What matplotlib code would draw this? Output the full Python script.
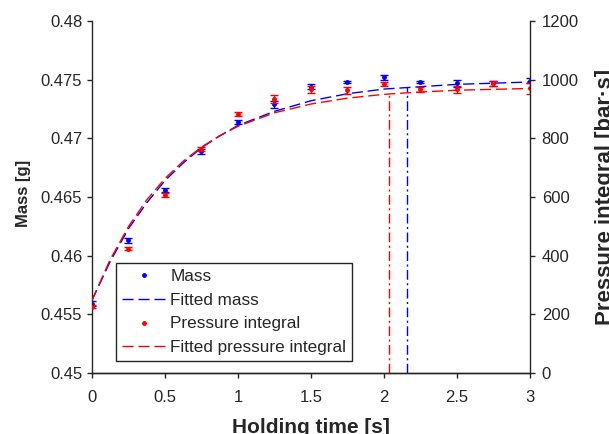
import matplotlib
matplotlib.use("Agg")
import matplotlib.pyplot as plt
from matplotlib.lines import Line2D

plt.rcParams['font.family'] = ['Liberation Sans', 'DejaVu Sans']

# measured points
time = [0, 0.25, 0.5, 0.75, 1.0, 1.25, 1.5, 1.75, 2.0, 2.25, 2.5, 2.75, 3.0]
mass = [0.4559, 0.4613, 0.4656, 0.4689, 0.4714, 0.4729, 0.4744, 0.4748,
        0.4752, 0.4748, 0.4747, 0.4747, 0.4749]
mass_err = [0.0002, 0.0002, 0.0002, 0.0002, 0.0002, 0.0003, 0.0002, 0.0001,
            0.0002, 0.0001, 0.0003, 0.0002, 0.0002]
pressure = [226, 423, 607, 764, 883, 933, 968, 964, 985, 967, 967, 988, 970]
pressure_err = [6, 5, 6, 8, 8, 14, 12, 12, 6, 8, 12, 8, 18]

# fitted curves
fit_time = [0, 0.125, 0.25, 0.375, 0.5, 0.625, 0.75, 0.875, 1.0, 1.25, 1.5,
            1.75, 2.0, 2.25, 2.5, 2.75, 3.0]
fit_mass = [0.4562, 0.4595, 0.4623, 0.4645, 0.4664, 0.4679, 0.4692, 0.4702,
            0.4711, 0.4723, 0.4732, 0.4738, 0.4742, 0.4744, 0.4746, 0.4747, 0.4748]
fit_pressure = [248, 387, 499, 590, 663, 722, 770, 809, 841, 887, 917, 937,
                950, 958, 964, 967, 970]

# saturation markers
mass_tsat, mass_tsat_val = 2.156, 0.47435
pressure_tsat, pressure_tsat_val = 2.034, 951

dark = '#262626'

fig = plt.figure(figsize=(6.09, 4.34), dpi=100)
ax = fig.add_axes([0.151, 0.1406, 0.719, 0.811])
ax2 = ax.twinx()

ax.errorbar(time, mass, yerr=mass_err, fmt='.', color='blue', ms=5,
            elinewidth=1, capsize=2.8, capthick=1)
ax.plot(fit_time, fit_mass, color='blue', lw=1, dashes=(8, 3.5))
ax.plot([mass_tsat, mass_tsat], [0.45, mass_tsat_val], color='blue', lw=1,
        dashes=(7, 2.5, 1.5, 2.5))

ax2.errorbar(time, pressure, yerr=pressure_err, fmt='.', color='red', ms=5,
             elinewidth=1, capsize=2.8, capthick=1)
ax2.plot(fit_time, fit_pressure, color='red', lw=1, dashes=(8, 3.5))
ax2.plot([pressure_tsat, pressure_tsat], [0, pressure_tsat_val], color='red',
         lw=1, dashes=(7, 2.5, 1.5, 2.5))

ax.set_xlim(0, 3)
ax.set_ylim(0.45, 0.48)
ax2.set_ylim(0, 1200)
ax.set_xticks([0, 0.5, 1, 1.5, 2, 2.5, 3])
ax.set_xticklabels(['0', '0.5', '1', '1.5', '2', '2.5', '3'])
ax.set_yticks([0.45, 0.455, 0.46, 0.465, 0.47, 0.475, 0.48])
ax.set_yticklabels(['0.45', '0.455', '0.46', '0.465', '0.47', '0.475', '0.48'])
ax2.set_yticks([0, 200, 400, 600, 800, 1000, 1200])

for a in (ax, ax2):
    a.spines['top'].set_visible(False)
    for s in a.spines.values():
        s.set_color(dark)
        s.set_linewidth(1.0)
    a.tick_params(direction='out', length=3.5, width=1, colors=dark,
                  labelsize=12, labelcolor=dark)
ax.spines['right'].set_visible(False)
ax2.spines['left'].set_visible(False)
ax.tick_params(axis='x', pad=9)
ax.tick_params(axis='y', pad=3.5)
ax2.tick_params(axis='y', pad=5)

ax.set_xlabel('Holding time [s]', fontsize=15, fontweight='bold', color=dark)
ax.xaxis.set_label_coords(0.499, -0.128)
ax.set_ylabel('Mass [g]', fontsize=12, fontweight='bold', color=dark)
ax.yaxis.set_label_coords(-0.14, 0.511)
ax2.set_ylabel('Pressure integral [bar·s]', fontsize=16, fontweight='bold',
               color=dark)
ax2.yaxis.set_label_coords(1.148, 0.5)

handles = [
    Line2D([], [], ls='none', marker='.', ms=5, color='blue'),
    Line2D([], [], color='blue', lw=1, dashes=(8, 3.5)),
    Line2D([], [], ls='none', marker='.', ms=5, color='red'),
    Line2D([], [], color='red', lw=1, dashes=(8, 3.5)),
]
labels = ['Mass', 'Fitted mass', 'Pressure integral', 'Fitted pressure integral']
leg = ax2.legend(handles, labels, loc='lower left',
                 bbox_to_anchor=(0.054, 0.034), borderaxespad=0,
                 fontsize=12.3, handlelength=2.6, handletextpad=0.25,
                 labelspacing=0.5, borderpad=0.35, numpoints=1,
                 fancybox=False, framealpha=1, edgecolor=dark)
leg.get_frame().set_linewidth(1.0)
for t in leg.get_texts():
    t.set_color(dark)

fig.savefig('out.png', dpi=100)
